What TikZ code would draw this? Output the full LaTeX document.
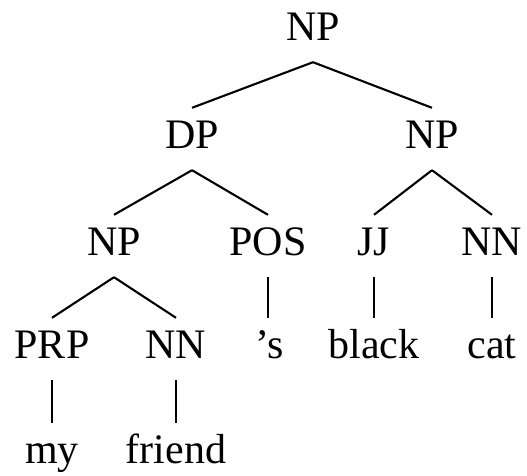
\documentclass[tikz,border=0pt]{standalone}
\usepackage{fontspec}
\setmainfont{Liberation Serif}
\usetikzlibrary{positioning}

\begin{document}
\begin{tikzpicture}[
        x=1pt, y=-1pt,
        cat/.style={anchor=base, inner xsep=0pt, inner ysep=11pt, text height=29pt, text depth=11pt, font=\fontsize{42}{50}\selectfont},
        word/.style={cat},
        branch/.style={draw, line width=2.1pt}
        ]
        \useasboundingbox (0,0) rectangle (527,475);

        % Nodes
        \node (np0) [cat] at (313,40) {NP};
        \node (dp) [cat] at (192,148) {DP};
        \node (np1) [cat] at (432,148) {NP};
        \node (np2) [cat] at (114,255) {NP};
        \node (pos) [cat] at (268,255) {POS};
        \node (jj) [cat] at (374,255) {JJ};
        \node (nn1) [cat] at (492,255) {NN};
        \node (prp) [cat] at (52,358) {PRP};
        \node (nn2) [cat] at (176,358) {NN};
        \node (poss) [word] at (270,358) {’s};
        \node (black) [word] at (374,358) {black};
        \node (cat) [word] at (492,358) {cat};
        \node (my) [word] at (52,463) {my};
        \node (friend) [word] at (176,463) {friend};

        % Branches
        \draw [branch] (np0.south) -- (dp.north);
        \draw [branch] (np0.south) -- (np1.north);
        \draw [branch] (dp.south) -- (np2.north);
        \draw [branch] (dp.south) -- (pos.north);
        \draw [branch] (np1.south) -- (jj.north);
        \draw [branch] (np1.south) -- (nn1.north);
        \draw [branch] (np2.south) -- (prp.north);
        \draw [branch] (np2.south) -- (nn2.north);
        \draw [branch] (pos.south) -- (poss.north -| pos.south);
        \draw [branch] (jj.south) -- (black.north -| jj.south);
        \draw [branch] (nn1.south) -- (cat.north -| nn1.south);
        \draw [branch] (prp.south) -- (my.north);
        \draw [branch] (nn2.south) -- (friend.north);

    \end{tikzpicture}
\end{document}
